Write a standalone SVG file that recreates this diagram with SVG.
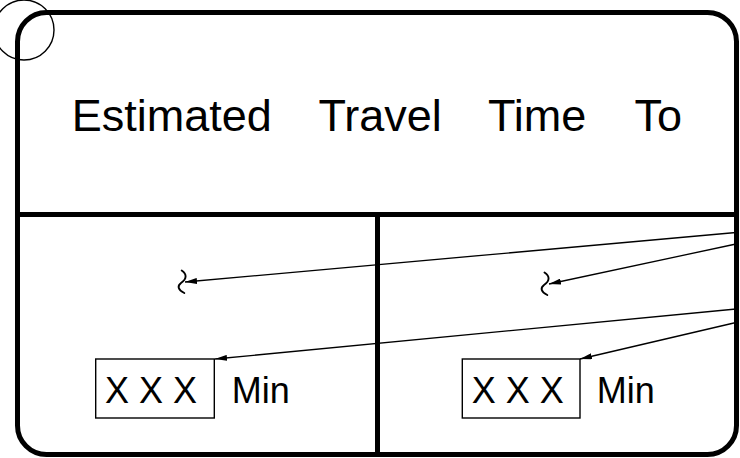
<svg xmlns="http://www.w3.org/2000/svg" width="740" height="458" viewBox="0 0 740 458">
<style>
.frame{fill:none;stroke:#000;stroke-width:5}
.thin{fill:none;stroke:#000;stroke-width:1.4}
.sym{fill:none;stroke:#000;stroke-width:1.9;stroke-linecap:round}
.conn{fill:none;stroke:#000;stroke-width:1.3;marker-end:url(#ah)}
.t{font-family:"Liberation Sans",Arial,sans-serif;fill:#000}
</style>
<defs>
<marker id="ah" viewBox="0 0 12 6" refX="12" refY="3" markerWidth="12" markerHeight="6" markerUnits="userSpaceOnUse" orient="auto">
<path d="M0,0 L12,3 L0,6 Z" fill="#000"/>
</marker>
</defs>
<rect x="17.5" y="12.5" width="719" height="442" rx="29" ry="29" class="frame"/>
<line x1="17.5" y1="214.5" x2="736.5" y2="214.5" class="frame"/>
<line x1="377.5" y1="214.5" x2="377.5" y2="454.5" class="frame"/>
<circle cx="24" cy="30" r="30" class="thin"/>
<g id="title">
<text class="t" font-size="45" y="131"><tspan x="71.7">Estimated</tspan><tspan x="318.5">Travel</tspan><tspan x="488">Time</tspan><tspan x="634.5">To</tspan></text>
</g>
<g id="sym-left">
<path d="M181.7,270.5 C187,274 187,279 181,283 C177,286 178,290 184.3,293" class="sym"/>
</g>
<g id="sym-right">
<path d="M544.5,272.5 C550,276 550,281 544,285 C540,288 541,292 547.3,295" class="sym"/>
</g>
<g id="box-left">
<rect x="95.7" y="359" width="118.6" height="59" class="thin"/>
<text class="t" font-size="36" x="105" y="402.5">X X X</text>
<text class="t" font-size="36" x="231.7" y="402.5">Min</text>
</g>
<g id="box-right">
<rect x="462.3" y="359" width="117.7" height="59" class="thin"/>
<text class="t" font-size="36" x="471.7" y="402.5">X X X</text>
<text class="t" font-size="36" x="596.7" y="402.5">Min</text>
</g>
<g id="connectors">
<line x1="736" y1="232.5" x2="185" y2="282" class="conn"/>
<line x1="736" y1="244" x2="549" y2="284" class="conn"/>
<line x1="736" y1="309" x2="215" y2="359" class="conn"/>
<line x1="736" y1="322.5" x2="580" y2="359" class="conn"/>
</g>
</svg>
